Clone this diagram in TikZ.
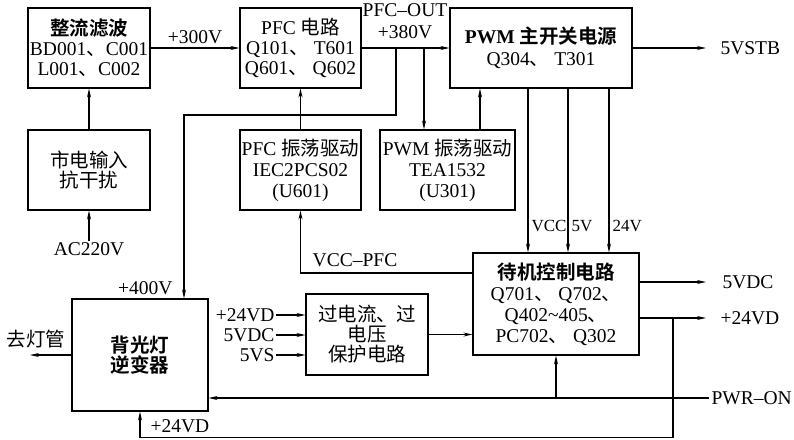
\documentclass[tikz,border=0pt]{standalone}
\usepackage{fontspec}
\setmainfont{Liberation Serif}
\newfontfamily\cjk{Noto Sans CJK SC}[BoldFont={Noto Sans CJK SC Bold}]
\usetikzlibrary{arrows.meta, positioning}
\newcommand{\zh}[1]{{\cjk #1}}

\begin{document}
\begin{tikzpicture}[
  x=1pt, y=-1pt,
  block/.style={
    draw, line width=1.1pt, align=center, inner sep=0pt,
    font=\fontsize{19.5}{20}\selectfont
  },
  lbl/.style={inner sep=1pt, font=\fontsize{19.5}{20}\selectfont},
  tap/.style={inner sep=1pt, font=\fontsize{17}{18}\selectfont},
  >={Stealth[length=9pt,width=4pt]}, line width=1.1pt
]
\useasboundingbox (0,0) rectangle (794,439);

\node[block, minimum width=122pt, minimum height=80pt] (rect) at (89,48)
  {\textbf{\zh{整流滤波}}\\BD001\zh{、}C001\\L001\zh{、}C002};
\node[block, minimum width=122pt, minimum height=80pt] (emi) at (89,170)
  {\zh{市电输入}\\\zh{抗干扰}};
\node[block, minimum width=121pt, minimum height=80pt] (pfc) at (300.5,48)
  {PFC \zh{电路}\\Q101\zh{、} T601\\Q601\zh{、} Q602};
\node[block, minimum width=121pt, minimum height=80pt, font=\fontsize{19.5}{21}\selectfont] (pfcdrv) at (300.5,170)
  {PFC \zh{振荡驱动}\\IEC2PCS02\\(U601)};
\node[block, minimum width=135pt, minimum height=80pt, font=\fontsize{19.5}{21}\selectfont] (pwmdrv) at (447.5,170)
  {PWM \zh{振荡驱动}\\TEA1532\\(U301)};
\node[block, minimum width=182pt, minimum height=80pt, font=\fontsize{19.5}{22}\selectfont] (pwm) at (541,48)
  {\textbf{PWM \zh{主开关电源}}\\Q304\zh{、} T301};
\node[block, minimum width=166pt, minimum height=102pt, font=\fontsize{19.5}{21}\selectfont] (stby) at (556,304)
  {\textbf{\zh{待机控制电路}}\\Q701\zh{、} Q702\zh{、}\\Q402\textasciitilde405\zh{、}\\PC702\zh{、} Q302};
\node[block, minimum width=122pt, minimum height=81pt] (prot) at (367,334.5)
  {\zh{过电流、过}\\\zh{电压}\\\zh{保护电路}};
\node[block, minimum width=136pt, minimum height=112pt] (inv) at (140,355)
  {\textbf{\zh{背光灯}}\\\textbf{\zh{逆变器}}};

\node[lbl] (ac) at (89,249) {AC220V};
\node[lbl] (pfcout) at (405,10) {PFC--OUT};
\node[lbl] (v380) at (405,32) {+380V};
\node[lbl, anchor=south east] (v400) at (174,296) {+400V};
\node[lbl] (vccpfc) at (355,260) {VCC--PFC};
\node[lbl] (lamp) at (36,339) {\zh{去灯管}};
\node[lbl] (fb24) at (180,426) {+24VD};
\node[lbl, anchor=west, inner xsep=14pt] (o5vstb) at (706,48) {5VSTB};
\node[lbl, anchor=west, inner xsep=16pt] (o5vdc) at (706,282) {5VDC};
\node[lbl, anchor=west, inner xsep=14pt] (o24vd) at (706,318) {+24VD};
\node[lbl, anchor=west, inner xsep=2pt] (pwron) at (709,398) {PWR--ON};
\node[lbl, anchor=east] (i24vd) at (276,315) {+24VD};
\node[lbl, anchor=east] (i5vdc) at (276,335) {5VDC};
\node[lbl, anchor=east] (i5vs) at (276,355) {5VS};

\coordinate (j400) at (396,48);
\coordinate (j380) at (424,48);
\coordinate (j24) at (673,318);
\coordinate (lampend) at (30,355);

\draw[->] (rect) -- node[lbl, above=3pt] {+300V} (pfc);
\draw[->] (emi) -- (rect);
\draw[->] (ac) -- (emi);
\draw[->] (pfc) -- (pwm);
\draw[->] (j380) -- (j380 |- pwmdrv.north);
\draw[->] ([xshift=32.5pt]pwmdrv.north) -- ([xshift=32.5pt]pwmdrv.north |- pwm.south);
\draw[->] (j400) -- ++(0,67) -| ([xshift=44pt]inv.north);
\draw[->] (pfcdrv) -- (pfc);
\draw[->] ([yshift=31pt]stby.west) -| (pfcdrv.south);
\foreach \dx/\txt in {-13/VCC, 27/5V, 68/24V}
  \draw[->] ([xshift=\dx pt]pwm.south) -- ([xshift=\dx pt]pwm.south |- stby.north)
    node[tap, pos=0.84, right=2pt] {\txt};
\draw[->] (pwm) -- (o5vstb);
\draw[->] ([yshift=22pt]stby.east) -- (o5vdc);
\draw[->] ([yshift=-14pt]stby.east) -- (o24vd);
\draw[->] (j24) -- ++(0,119.5) -| (inv.south);
\draw[->] (pwron) -- (pwron -| inv.east);
\draw[->] (stby.south |- pwron) -- (stby.south);
\draw[->] (i24vd) -- (i24vd -| prot.west);
\draw[->] (i5vdc) -- (i5vdc -| prot.west);
\draw[->] (i5vs) -- (i5vs -| prot.west);
\draw[->] (prot) -- (prot -| stby.west);
\draw[->] (inv.west) -- (lampend);
\end{tikzpicture}
\end{document}
